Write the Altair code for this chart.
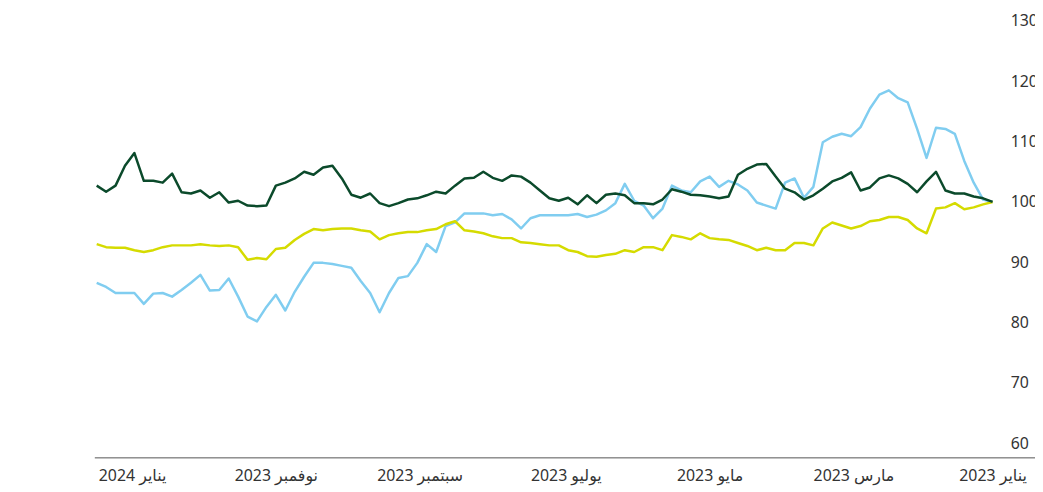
import altair as alt
import pandas as pd

# Index values (base = 100 at the first date), one reading every 4 days
START_DATE = "2023-01-01"
STEP_DAYS = 4

GREEN = [100.0, 100.6, 100.9, 101.4, 101.4, 101.9, 105.0, 103.4, 101.6, 103.0,
         103.9, 104.4, 103.9, 102.4, 101.9, 104.9, 104.0, 103.4, 102.2, 101.1,
         100.4, 101.6, 102.2, 104.2, 106.3, 106.2, 105.5, 104.5, 100.9, 100.6,
         100.9, 101.1, 101.2, 101.7, 102.1, 100.4, 99.6, 99.8, 99.8, 101.1,
         101.4, 101.2, 99.8, 101.1, 99.6, 100.7, 100.2, 100.6, 101.9, 103.2,
         104.2, 104.4, 103.5, 104.0, 105.0, 104.0, 103.9, 102.7, 101.4, 101.7,
         101.1, 100.6, 100.4, 99.8, 99.3, 99.8, 101.4, 100.7, 101.2, 103.9,
         106.0, 105.7, 104.5, 105.0, 103.9, 103.2, 102.7, 99.4, 99.3, 99.4,
         100.2, 99.9, 101.6, 100.7, 101.9, 101.4, 101.6, 104.7, 103.2, 103.5,
         103.5, 108.1, 106.0, 102.7, 101.7, 102.7]

BLUE = [100.0, 100.4, 103.2, 106.8, 111.3, 112.1, 112.3, 107.3, 112.1, 116.5,
        117.2, 118.5, 117.8, 115.5, 112.4, 110.9, 111.3, 110.8, 109.9, 102.5,
        100.7, 103.9, 103.2, 98.9, 99.4, 99.9, 101.9, 102.9, 103.5, 102.5,
        104.2, 103.4, 101.6, 101.9, 102.7, 98.9, 97.3, 99.4, 100.2, 103.0,
        99.8, 98.6, 97.9, 97.5, 98.0, 97.8, 97.8, 97.8, 97.8, 97.3,
        95.6, 97.1, 98.0, 97.8, 98.1, 98.1, 98.1, 96.6, 96.0, 91.7,
        93.0, 89.9, 87.7, 87.4, 84.9, 81.7, 84.9, 86.9, 89.1, 89.4,
        89.7, 89.9, 89.9, 87.6, 85.1, 82.0, 84.6, 82.6, 80.2, 81.0,
        84.3, 87.3, 85.4, 85.3, 87.9, 86.6, 85.4, 84.3, 84.9, 84.8,
        83.1, 84.9, 84.9, 84.9, 85.9, 86.6]

YELLOW = [100.0, 99.6, 99.1, 98.8, 99.8, 99.1, 98.9, 94.8, 95.6, 97.0,
          97.5, 97.5, 97.0, 96.8, 96.0, 95.6, 96.1, 96.6, 95.6, 92.8,
          93.2, 93.2, 92.0, 92.0, 92.4, 92.0, 92.7, 93.2, 93.7, 93.8,
          94.0, 94.8, 93.8, 94.2, 94.5, 92.0, 92.5, 92.5, 91.7, 92.0,
          91.4, 91.2, 90.9, 91.0, 91.7, 92.0, 92.8, 92.8, 93.0, 93.2,
          93.3, 94.0, 94.0, 94.3, 94.8, 95.1, 95.3, 96.8, 96.3, 95.5,
          95.3, 95.0, 95.0, 94.8, 94.5, 93.8, 95.1, 95.3, 95.6, 95.6,
          95.5, 95.3, 95.5, 94.7, 93.7, 92.4, 92.2, 90.5, 90.7, 90.4,
          92.5, 92.8, 92.7, 92.8, 93.0, 92.8, 92.8, 92.8, 92.5, 92.0,
          91.7, 92.0, 92.4, 92.4, 92.5, 93.0]

SERIES_NAMES = ["a_blue", "b_yellow", "c_green"]
SERIES_COLORS = ["#80cdf0", "#d5db00", "#0b4a2b"]

Y_TICKS = [60, 70, 80, 90, 100, 110, 120, 130]
X_TICKS = [(2023, 1), (2023, 3), (2023, 5), (2023, 7), (2023, 9), (2023, 11), (2024, 1)]
MONTHS_AR = ["يناير", "فبراير", "مارس", "أبريل", "مايو", "يونيو",
             "يوليو", "أغسطس", "سبتمبر", "أكتوبر", "نوفمبر", "ديسمبر"]

dates = pd.date_range(START_DATE, periods=len(GREEN), freq=f"{STEP_DAYS}D")
frames = []
for name, vals in zip(SERIES_NAMES, [BLUE, YELLOW, GREEN]):
    frames.append(pd.DataFrame({"date": dates, "value": vals, "series": name}))
df = pd.concat(frames, ignore_index=True)

months_js = "[" + ",".join("'" + m + "'" for m in MONTHS_AR) + "]"
label_expr = "timeFormat(datum.value, '%Y') + ' ' + " + months_js + "[month(datum.value)]"

FONT = "Noto Sans, DejaVu Sans, sans-serif"

chart = alt.Chart(df).mark_line(strokeWidth=2.5, strokeJoin="round").encode(
    x=alt.X(
        "date:T",
        scale=alt.Scale(
            domain=[alt.DateTime(year=2022, month=12, date=14),
                    alt.DateTime(year=2024, month=1, date=17)],
            reverse=True,
        ),
        axis=alt.Axis(
            values=[alt.DateTime(year=y, month=m, date=1) for y, m in X_TICKS],
            labelExpr=label_expr,
            title=None,
            ticks=False,
            grid=False,
            domainColor="#555555",
            domainWidth=1,
            labelColor="#333333",
            labelFontSize=16,
            labelFont=FONT,
            labelPadding=10,
            labelFlush=False,
            labelOverlap=False,
        ),
    ),
    y=alt.Y(
        "value:Q",
        scale=alt.Scale(domain=[57.65, 130.2], nice=False, zero=False),
        axis=alt.Axis(
            orient="right",
            values=Y_TICKS,
            title=None,
            ticks=False,
            grid=False,
            domain=False,
            labelColor="#333333",
            labelFontSize=16,
            labelFont=FONT,
            labelPadding=0,
            offset=-25,
            labelAlign="left",
            labelFlush=False,
            labelOverlap=False,
        ),
    ),
    color=alt.Color(
        "series:N",
        scale=alt.Scale(domain=SERIES_NAMES, range=SERIES_COLORS),
        legend=None,
    ),
).properties(
    width=948,
    height=441,
    autosize=alt.AutoSizeParams(type="none"),
    padding={"left": 87, "top": 10, "right": 0, "bottom": 31},
    background="white",
).configure_view(stroke=None)

chart.save("out.html", embed_options={"renderer": "svg", "actions": False})
